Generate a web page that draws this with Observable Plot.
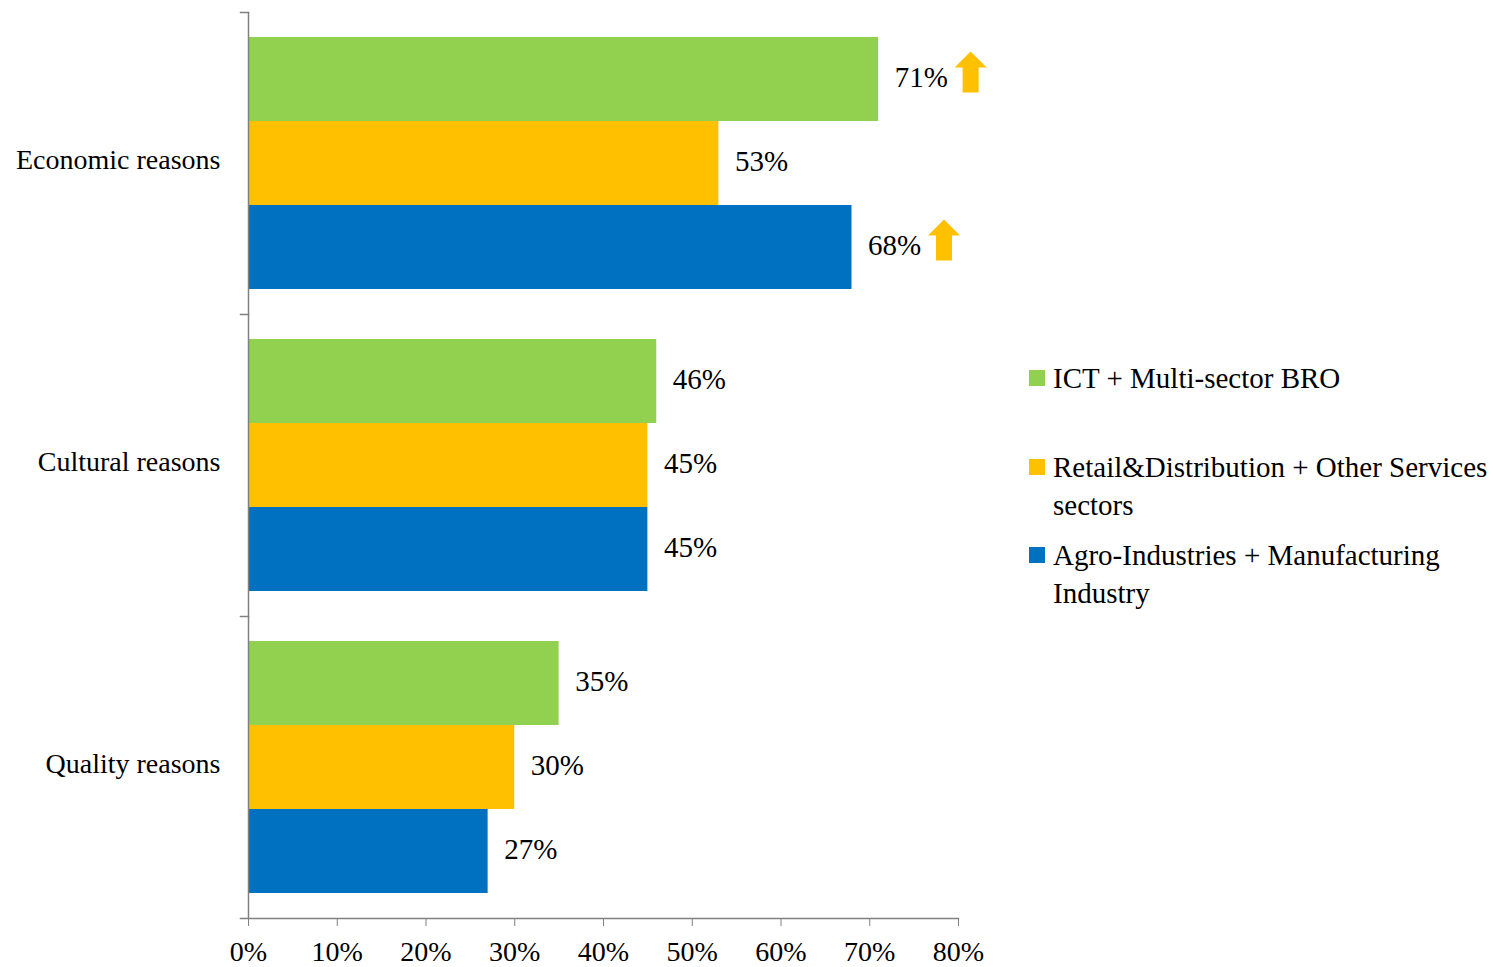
<!DOCTYPE html>
<html><head><meta charset="utf-8">
<script src="https://cdn.jsdelivr.net/npm/d3@7"></script>
<script src="https://cdn.jsdelivr.net/npm/@observablehq/plot@0.6"></script>
<style>
html,body{margin:0;background:#fff;font-family:"Liberation Serif",serif;overflow:hidden;}
#wrap{position:relative;width:1493px;height:967px;overflow:hidden;}
.entry{position:absolute;left:1029px;width:462px;font-size:29px;line-height:38px;color:#000;}
.entry .sw{position:absolute;left:0;top:11px;width:16px;height:16px;}
.entry .lab{margin-left:24px;}
</style></head><body><div id="wrap"><div id="chart"></div></div>
<script>
const categories = ["Economic reasons", "Cultural reasons", "Quality reasons"];
const series = ["ICT + Multi-sector BRO", "Retail&Distribution + Other Services sectors", "Agro-Industries + Manufacturing Industry"];
const colors = ["#92D050", "#FFC000", "#0070C0"];
const ictValues = [71, 46, 35];
const retailValues = [53, 45, 30];
const agroValues = [68, 45, 27];
const xTicks = [0, 10, 20, 30, 40, 50, 60, 70, 80];
const upArrows = [["Economic reasons", "ICT + Multi-sector BRO"], ["Economic reasons", "Agro-Industries + Manufacturing Industry"]];

const valueSets = [ictValues, retailValues, agroValues];
const rows = [];
categories.forEach((c, i) => series.forEach((s, j) => rows.push({category: c, series: s, value: valueSets[j][i]})));
const arrowRows = upArrows.map(([c, s]) => rows.find(r => r.category === c && r.series === s));

const upArrow = {draw(ctx) {
  ctx.moveTo(0, -21); ctx.lineTo(16, -5); ctx.lineTo(8, -5); ctx.lineTo(8, 20);
  ctx.lineTo(-8, 20); ctx.lineTo(-8, -5); ctx.lineTo(-16, -5); ctx.closePath();
}};

const W = 1493, H = 967, mL = 248, mR = 535;
const axisColor = "#808080";
const chart = Plot.plot({
  width: W, height: H,
  marginLeft: mL, marginRight: mR, marginTop: 12, marginBottom: 49,
  style: {fontFamily: "'Liberation Serif', serif", fontSize: "28px", color: "#000", background: "#fff"},
  x: {domain: [0, 80], axis: null},
  y: {domain: series, paddingInner: 0, paddingOuter: 0.28, axis: null},
  fy: {domain: categories, padding: 0, axis: null, label: null},
  color: {domain: series, range: colors},
  marks: [
    Plot.barX(rows, {x: "value", y: "series", fy: "category", fill: "series"}),
    Plot.ruleX([0], {stroke: axisColor, strokeWidth: 1.5}),
    Plot.frame({anchor: "top", insetLeft: -8, insetRight: W - mL - mR, stroke: axisColor, strokeWidth: 1.5}),
    Plot.frame({anchor: "bottom", facet: "super", insetLeft: -8, stroke: axisColor, strokeWidth: 1.5}),
    Plot.axisFy({anchor: "left", tickSize: 0, tickPadding: 28, dy: -3, fill: "#000", label: null}),
    Plot.axisX({ticks: xTicks, tickFormat: d => d + "%", tickSize: 8, tickPadding: 15, stroke: axisColor, fill: "#000", label: null}),
    Plot.text(rows, {x: "value", y: "series", fy: "category", text: d => d.value + "%", textAnchor: "start", dx: 16, dy: -2, fontSize: 29, fill: "#000"}),
    Plot.dot(arrowRows, {x: "value", y: "series", fy: "category", symbol: upArrow, fill: "#FFC000", stroke: "none", dx: 92, dy: -7})
  ]
});
document.getElementById("chart").appendChild(chart);

const wrap = document.getElementById("wrap");
series.forEach((s, i) => {
  const e = document.createElement("div");
  e.className = "entry";
  e.style.top = (378 - 19 + 88.5 * i) + "px";
  e.innerHTML = `<div class="sw" style="background:${colors[i]}"></div><div class="lab"></div>`;
  e.querySelector(".lab").textContent = s;
  wrap.appendChild(e);
});
</script></body></html>
